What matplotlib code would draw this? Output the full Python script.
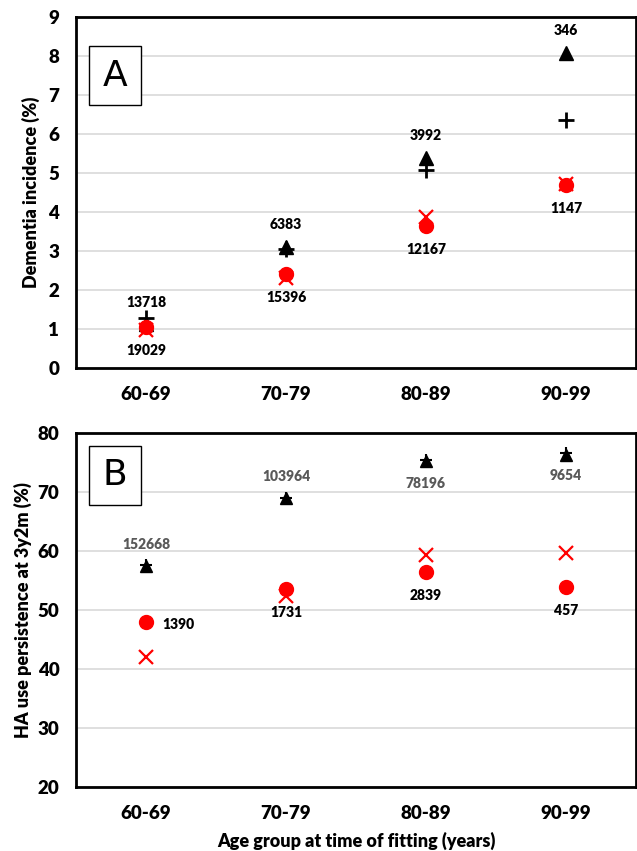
import numpy as np
import matplotlib.pyplot as plt
from matplotlib.patches import Rectangle

plt.rcParams['font.family'] = ['Lato', 'DejaVu Sans']
WT = 'heavy'

# Age groups
ages = ['60-69', '70-79', '80-89', '90-99']

# Panel A: dementia incidence (%)
a_tri = [1.12, 3.10, 5.38, 8.08]
a_plus = [1.28, 3.05, 5.08, 6.37]
a_circ = [1.05, 2.42, 3.65, 4.70]
a_x = [0.97, 2.30, 3.86, 4.72]
a_tri_n = ['13718', '6383', '3992', '346']
a_circ_n = ['19029', '15396', '12167', '1147']

# Panel B: HA use persistence at 3y2m (%)
b_tri = [57.4, 68.9, 75.2, 76.3]
b_plus = [57.6, 69.0, 75.4, 76.6]
b_circ = [48.0, 53.5, 56.5, 53.9]
b_x = [42.0, 52.3, 59.4, 59.6]
b_tri_n = ['152668', '103964', '78196', '9654']
b_circ_n = ['1390', '1731', '2839', '457']

fig = plt.figure(figsize=(6.37, 8.51), dpi=100)
W, H = 637, 851
axA = fig.add_axes([76 / W, 1 - 368 / H, 560 / W, 351 / H])
axB = fig.add_axes([76 / W, 1 - 787 / H, 560 / W, 354 / H])

x = np.arange(len(ages))


def style(ax, ylim, yticks, ylabel, letter, box_top, ylab_x):
    ax.set_xlim(-0.5, 3.5)
    ax.set_ylim(*ylim)
    ax.set_yticks(yticks)
    ax.set_xticks(x)
    ax.set_xticklabels(ages)
    ax.tick_params(length=0, labelsize=13.5)
    ax.tick_params(axis='y', pad=12)
    ax.tick_params(axis='x', pad=13)
    for lab in ax.get_xticklabels() + ax.get_yticklabels():
        lab.set_fontweight(WT)
    ax.grid(axis='y', color='#d9d9d9', linewidth=1.2)
    ax.set_axisbelow(True)
    for s in ax.spines.values():
        s.set_linewidth(2)
    ax.set_ylabel(ylabel, fontsize=13, fontweight=WT)
    ax.yaxis.set_label_coords(ylab_x, 0.5)
    # letter box, fixed size in pixels
    bx, by, bw, bh = 89, box_top, 52, 59
    pos = ax.get_position()
    x0 = (bx / W - pos.x0) / pos.width
    y0 = ((1 - (by + bh) / H) - pos.y0) / pos.height
    w = (bw / W) / pos.width
    h = (bh / H) / pos.height
    ax.add_patch(Rectangle((x0, y0), w, h, transform=ax.transAxes, fc='white',
                           ec='black', lw=1, zorder=5))
    ax.text(x0 + w / 2, y0 + h / 2, letter, transform=ax.transAxes, fontsize=26,
            ha='center', va='center', zorder=6, family='DejaVu Sans')


# ---- Panel A ----
axA.plot(x, a_tri, '^', color='black', ms=10, zorder=3)
axA.plot(x, a_plus, '+', color='black', ms=12, mew=2, zorder=3)
axA.plot(x, a_circ, 'o', color='red', ms=10, zorder=4)
axA.plot(x, a_x, 'x', color='red', ms=10, mew=1.6, zorder=4)
for i in range(len(ages)):
    axA.annotate(a_tri_n[i], (x[i], a_tri[i]), xytext=(0, 16), textcoords='offset points',
                 ha='center', va='center', fontsize=10, fontweight=WT)
    axA.annotate(a_circ_n[i], (x[i], a_circ[i]), xytext=(0, -17), textcoords='offset points',
                 ha='center', va='center', fontsize=10, fontweight=WT)
style(axA, (0, 9), range(0, 10), 'Dementia incidence (%)', 'A', 46, -0.064)

# ---- Panel B ----
axB.plot(x, b_tri, '^', color='black', ms=8, zorder=3)
axB.plot(x, b_plus, '+', color='black', ms=8, mew=1.5, zorder=3)
axB.plot(x, b_circ, 'o', color='red', ms=10, zorder=4)
axB.plot(x, b_x, 'x', color='red', ms=10, mew=1.6, zorder=4)
tri_dy = [16, 16, -16, -15]
for i in range(len(ages)):
    axB.annotate(b_tri_n[i], (x[i], b_tri[i]), xytext=(0, tri_dy[i]), textcoords='offset points',
                 ha='center', va='center', fontsize=10, fontweight=WT, color='#595959')
    if i == 0:
        axB.annotate(b_circ_n[i], (x[i], b_circ[i]), xytext=(23, -2), textcoords='offset points',
                     ha='center', va='center', fontsize=10, fontweight=WT)
    else:
        axB.annotate(b_circ_n[i], (x[i], b_circ[i]), xytext=(0, -17), textcoords='offset points',
                     ha='center', va='center', fontsize=10, fontweight=WT)
style(axB, (20, 80), range(20, 81, 10), 'HA use persistence at 3y2m (%)', 'B', 446, -0.079)
axB.set_xlabel('Age group at time of fitting (years)', fontsize=13, fontweight=WT)
axB.xaxis.set_label_coords(0.5, -45 / 354)

fig.savefig('out.png', dpi=100)
